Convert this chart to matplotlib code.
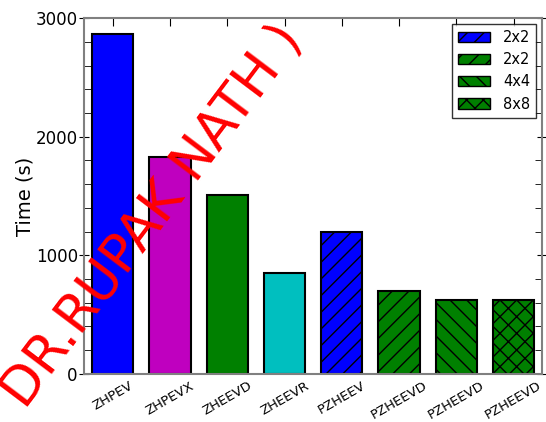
import matplotlib
matplotlib.use("Agg")
import matplotlib.pyplot as plt
from matplotlib.patches import Patch

# solver timings
routines = ['ZHPEV', 'ZHPEVX', 'ZHEEVD', 'ZHEEVR', 'PZHEEV', 'PZHEEVD', 'PZHEEVD', 'PZHEEVD']
times = [2868, 1829, 1508, 854, 1197, 699, 621, 621]
colors = ['blue', 'm', 'green', 'c', 'blue', 'green', 'green', 'green']
hatches = ['', '', '', '', '//', '//', '\\\\', 'xx']

# legend entries (parallel runs)
grid_labels = ['2x2', '2x2', '4x4', '8x8']
grid_colors = ['blue', 'green', 'green', 'green']
grid_hatches = ['//', '//', '\\\\', 'xx']

plt.rcParams['hatch.linewidth'] = 1.0

fig = plt.figure(figsize=(5.46, 4.22), dpi=100)
ax = fig.add_axes([0.154, 0.114, 0.839, 0.843])

x = list(range(len(routines)))
ax.bar(x, times, width=0.72, color=colors, edgecolor='black', linewidth=1.5,
       hatch=hatches, zorder=2)

ax.set_xlim(-0.5, len(routines) - 0.5)
ax.set_ylim(0, 3000)
ax.set_yticks([0, 1000, 2000, 3000])
ax.set_yticks(range(0, 3001, 200), minor=True)
ax.set_xticks(x)
ax.set_xticklabels(routines, rotation=30, ha='center', fontsize=9.5)
ax.tick_params(axis='y', which='major', direction='inout', length=7, pad=1,
               labelsize=12, right=True, color='black')
ax.tick_params(axis='y', which='minor', direction='in', length=5, right=True)
ax.tick_params(axis='x', direction='in', length=6, top=True, color='black', pad=4)
ax.set_ylabel('Time (s)', fontsize=14, labelpad=1)

for s in ax.spines.values():
    s.set_color('gray')
    s.set_linewidth(1.5)

handles = [Patch(facecolor=c, edgecolor='black', hatch=h, label=l)
           for c, h, l in zip(grid_colors, grid_hatches, grid_labels)]
ax.legend(handles=handles, loc='upper right', fontsize=10.5, fancybox=False,
          edgecolor='black', handlelength=2.2, labelspacing=0.5,
          borderaxespad=0.4, handletextpad=0.9)

# watermark
fig.text(0.045, 0.028, 'DR.RUPAK NATH )', color='red', fontsize=38,
         rotation=53, rotation_mode='anchor', ha='left', va='baseline', zorder=10)

fig.savefig('out.png', dpi=100)
